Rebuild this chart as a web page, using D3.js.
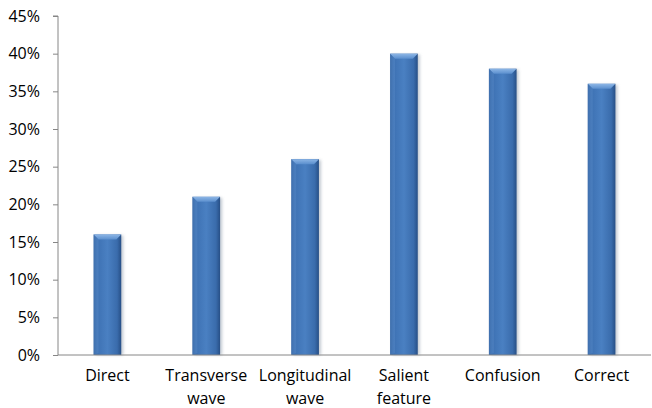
<!DOCTYPE html>
<html>
<head>
<meta charset="utf-8">
<script src="https://cdn.jsdelivr.net/npm/d3@7"></script>
<style>
  html, body { margin: 0; padding: 0; background: #fff; }
  svg { display: block; }
  text { font-family: "Open Sans", Lato, sans-serif; fill: #000; }
</style>
</head>
<body>
<svg id="chart" width="652" height="408"></svg>
<script>
// Chart data
const categories = ["Direct", "Transverse\nwave", "Longitudinal\nwave", "Salient\nfeature", "Confusion", "Correct"];
const values = [0.16, 0.21, 0.26, 0.40, 0.38, 0.36];
const yTicks = [0, 0.05, 0.10, 0.15, 0.20, 0.25, 0.30, 0.35, 0.40, 0.45];

const W = 652, H = 408;
const margin = { top: 16, right: 1, bottom: 53, left: 58 };
const svg = d3.select("#chart");

const x = d3.scaleBand()
  .domain(categories)
  .range([margin.left, W - margin.right])
  .paddingInner(0.72)
  .paddingOuter(0.36);

const y = d3.scaleLinear()
  .domain([0, 0.45])
  .range([H - margin.bottom, margin.top]);

// Gradients for the bevelled bars
const defs = svg.append("defs");
const g1 = defs.append("linearGradient").attr("id", "barGrad").attr("x1", 0).attr("x2", 1).attr("y1", 0).attr("y2", 0);
[["0%", "#2f5f9e"], ["12%", "#3d71b3"], ["50%", "#4a80c2"], ["85%", "#3a6cac"], ["100%", "#274f86"]]
  .forEach(([o, c]) => g1.append("stop").attr("offset", o).attr("stop-color", c));
const g2 = defs.append("linearGradient").attr("id", "capGrad").attr("x1", 0).attr("x2", 0).attr("y1", 0).attr("y2", 1);
[["0%", "#8db6e6"], ["100%", "#5b8fce"]]
  .forEach(([o, c]) => g2.append("stop").attr("offset", o).attr("stop-color", c));
const blur = defs.append("filter").attr("id", "shadow").attr("x", "-30%").attr("y", "-10%").attr("width", "160%").attr("height", "120%");
blur.append("feGaussianBlur").attr("stdDeviation", 1.5);

// Axes
const yAxis = d3.axisLeft(y).tickValues(yTicks).tickFormat(d3.format(".0%")).tickSize(5).tickPadding(13);
const gy = svg.append("g").attr("transform", `translate(${margin.left},0)`).call(yAxis);
gy.select(".domain").attr("stroke", "#868686").attr("d", `M-5,${y(0.45)}H0V${y(0)}`);
gy.selectAll(".tick line").attr("stroke", "#868686");
gy.selectAll(".tick text").style("font-size", "16px").attr("fill", "#000");

// Bars
const bw = x.bandwidth();
const bars = svg.append("g").selectAll("g").data(categories).join("g");
bars.append("rect")
  .attr("x", d => x(d) + 2)
  .attr("y", (d, i) => y(values[i]) + 1)
  .attr("width", bw)
  .attr("height", (d, i) => y(0) - y(values[i]) - 1)
  .attr("fill", "#9aa5b3")
  .attr("opacity", 0.6)
  .attr("filter", "url(#shadow)");
bars.append("rect")
  .attr("x", d => x(d))
  .attr("y", (d, i) => y(values[i]))
  .attr("width", bw)
  .attr("height", (d, i) => y(0) - y(values[i]))
  .attr("fill", "url(#barGrad)");
// Bevelled top cap
bars.append("path")
  .attr("d", (d, i) => {
    const x0 = x(d), x1 = x0 + bw, t = y(values[i]), b = 5;
    return `M${x0},${t}H${x1}L${x1 - b},${t + b}H${x0 + b}Z`;
  })
  .attr("fill", "url(#capGrad)");
bars.append("path")
  .attr("d", (d, i) => {
    const x0 = x(d), t = y(values[i]), b = 5;
    return `M${x0},${t}L${x0 + b},${t + b}V${y(0) - 2}L${x0},${y(0)}Z`;
  })
  .attr("fill", "#5f90cc").attr("opacity", 0.35);

// X axis line and labels
svg.append("line")
  .attr("x1", margin.left).attr("x2", W - margin.right)
  .attr("y1", y(0)).attr("y2", y(0))
  .attr("stroke", "#868686");
const lbl = svg.append("g").selectAll("text").data(categories).join("text")
  .attr("text-anchor", "middle")
  .style("font-size", "16px")
  .attr("transform", d => `translate(${x(d) + bw / 2},${y(0) + 26})`);
lbl.selectAll("tspan").data(d => d.split("\n")).join("tspan")
  .attr("x", 0)
  .attr("dy", (d, i) => i === 0 ? 0 : 23)
  .text(d => d);
</script>
</body>
</html>
